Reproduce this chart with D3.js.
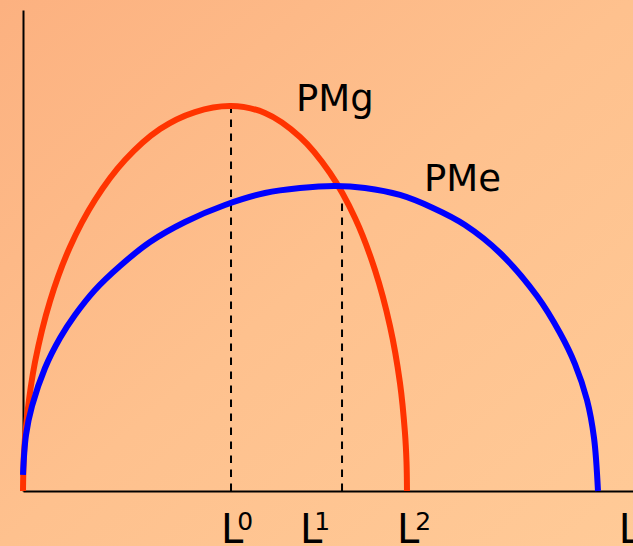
<!DOCTYPE html>
<html>
<head>
<meta charset="utf-8">
<script src="https://cdn.jsdelivr.net/npm/d3@7"></script>
<style>
    html, body { margin: 0; padding: 0; overflow: hidden; }
    text { font-family: "DejaVu Sans", sans-serif; fill: #000; }
</style>
</head>
<body>
<div id="chart"></div>
<script>
// Data
//-------------------------------------------------------
var pmgL   = [0, 0.16, 0.66, 1.97, 4.43, 7.70, 11.80, 16.72, 22.46, 28.20, 34.10, 39.67, 45.41, 50.33, 54.43, 57.70, 60.16, 61.80, 62.62, 62.87, 62.95];
var pmgVal = [0, 7.90, 15.59, 26.82, 39.50, 50.73, 60.50, 68.81, 75.26, 78.79, 80.04, 78.59, 73.60, 66.11, 56.76, 45.95, 34.30, 22.45, 12.06, 6.03, 0];

var pmeL   = [0, 0.49, 1.48, 3.61, 6.07, 8.52, 11.80, 15.90, 20.82, 26.56, 33.11, 39.67, 45.41, 51.15, 56.07, 61.80, 67.21, 72.46, 78.20, 84.26, 88.03, 90.49, 92.46, 93.61, 94.26];
var pmeVal = [3.33, 11.64, 17.67, 25.57, 31.81, 36.59, 41.79, 46.78, 51.77, 55.93, 59.46, 61.95, 62.99, 63.41, 62.99, 61.54, 58.84, 55.30, 49.48, 40.54, 32.85, 26.40, 18.92, 11.02, 0];

// dashed guides: L0 at max of PMg, L1 where PMg = PMe
var guideL   = [34.1, 52.3];
var guideVal = [80.0, 63.0];

var tickL      = [34.1, 52.3, 62.95, 98.0];
var tickLabels = ["0", "1", "2", ""];

// SVG set up
//-------------------------------------------------------
var svgWidth = 633;
var svgHeight = 546;

var svg = d3.select("#chart")
    .append("svg")
    .attr("width", svgWidth)
    .attr("height", svgHeight);

var defs = svg.append("defs");
var grad = defs.append("linearGradient")
    .attr("id", "bg")
    .attr("x1", "0").attr("y1", "0")
    .attr("x2", "1").attr("y2", "1");
grad.append("stop").attr("offset", "0").attr("stop-color", "#fcb180");
grad.append("stop").attr("offset", "0.5").attr("stop-color", "#fec18e");
grad.append("stop").attr("offset", "1").attr("stop-color", "#ffca97");

svg.append("rect")
    .attr("width", svgWidth)
    .attr("height", svgHeight)
    .attr("fill", "url(#bg)");

// Scales
//-------------------------------------------------------
var xScale = d3.scaleLinear().domain([0, 100]).range([23, 633]);
var yScale = d3.scaleLinear().domain([0, 100]).range([491, 10]);

// Axes (plain lines, no ticks)
//-------------------------------------------------------
var bottomAxis = d3.axisBottom(xScale).tickValues([]).tickSizeOuter(0);
var leftAxis = d3.axisLeft(yScale).tickValues([]).tickSizeOuter(0);

svg.append("g")
    .attr("transform", `translate(0, ${yScale(0)})`)
    .call(bottomAxis)
    .select(".domain")
    .attr("stroke", "#000")
    .attr("stroke-width", 2);

svg.append("g")
    .attr("transform", `translate(${xScale(0)}, 0)`)
    .call(leftAxis)
    .select(".domain")
    .attr("stroke", "#000")
    .attr("stroke-width", 2);

// Dashed guide lines
//-------------------------------------------------------
svg.selectAll(".guide")
    .data(guideL)
    .enter()
    .append("line")
    .attr("class", "guide")
    .attr("x1", d => xScale(d))
    .attr("x2", d => xScale(d))
    .attr("y1", yScale(0))
    .attr("y2", (d, i) => yScale(guideVal[i]))
    .attr("stroke", "#000")
    .attr("stroke-width", 2)
    .attr("stroke-dasharray", "7.5 6.5");

// Curves
//-------------------------------------------------------
var line = d3.line()
    .x(d => xScale(d[0]))
    .y(d => yScale(d[1]))
    .curve(d3.curveCatmullRom.alpha(0.5));

var pmg = pmgL.map((d, i) => [d, pmgVal[i]]);
var pme = pmeL.map((d, i) => [d, pmeVal[i]]);

svg.append("path")
    .datum(pmg)
    .attr("d", line)
    .attr("fill", "none")
    .attr("stroke", "#ff3300")
    .attr("stroke-width", 6);

svg.append("path")
    .datum(pme)
    .attr("d", line)
    .attr("fill", "none")
    .attr("stroke", "#0000ff")
    .attr("stroke-width", 6);

// Curve labels
//-------------------------------------------------------
svg.append("text")
    .attr("x", 296)
    .attr("y", 111)
    .attr("font-size", 37)
    .text("PMg");

svg.append("text")
    .attr("x", 424)
    .attr("y", 191)
    .attr("font-size", 37)
    .text("PMe");

// L labels with superscripts
//-------------------------------------------------------
var labelShift = [-10, -42, -10, -2];
var supShift = [-6, -8, -4, 0];

var labels = svg.selectAll(".llabel")
    .data(tickL)
    .enter()
    .append("text")
    .attr("class", "llabel")
    .attr("x", (d, i) => xScale(d) + labelShift[i])
    .attr("y", 543)
    .attr("font-size", 40);

labels.append("tspan").text("L");
labels.append("tspan")
    .attr("dx", (d, i) => supShift[i])
    .attr("dy", -13)
    .attr("font-size", 25)
    .text((d, i) => tickLabels[i]);
</script>
</body>
</html>
